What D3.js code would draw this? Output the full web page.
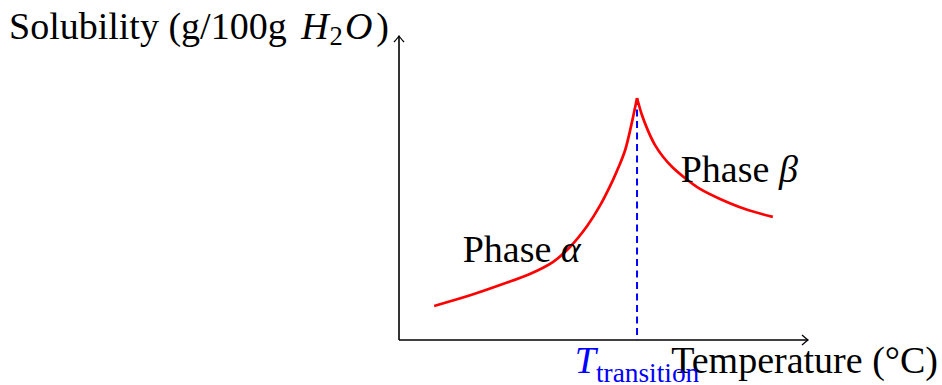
<!DOCTYPE html>
<html>
<head>
<meta charset="utf-8">
<script src="https://cdn.jsdelivr.net/npm/d3@7"></script>
<style>
  body { margin: 0; background: #fff; }
  svg text { font-family: "Liberation Serif", "DejaVu Serif", serif; }
</style>
</head>
<body>
<div id="chart"></div>
<script>
// values (temperature, solubility)
const alphaTemp = [8.6, 17.4, 25.4, 32.0, 37.7, 41.8, 46.0, 49.1, 52.3, 53.8, 55.3, 56.7, 58.2];
const alphaSol  = [11.2, 14.7, 18.4, 21.7, 25.7, 30.6, 37.5, 44.1, 52.6, 57.2, 62.5, 70.1, 79.6];
const betaTemp  = [58.2, 59.4, 60.9, 62.6, 64.6, 66.8, 69.9, 73.6, 78.5, 84.6, 91.4];
const betaSol   = [79.6, 74.0, 68.8, 64.1, 60.2, 56.9, 53.3, 49.7, 46.4, 43.1, 40.5];
const transitionTemp = 58.2;
const transitionSol = 79.6;
// annotation labels: [text, greek, temp, sol]
const phaseLabels = [["Phase ", "α", 30, 25.7], ["Phase ", "β", 83.2, 52.0]];

const width = 942, height = 385;
const fontSize = 38;

const svg = d3.select("#chart").append("svg")
    .attr("width", width)
    .attr("height", height);

const x = d3.scaleLinear().domain([0, 100]).range([399, 808]);
const y = d3.scaleLinear().domain([0, 100]).range([340, 36]);

// arrow head (tikz "to" style)
svg.append("defs").append("marker")
    .attr("id", "arr")
    .attr("viewBox", "-8 -6 10 12")
    .attr("refX", 0).attr("refY", 0)
    .attr("markerWidth", 10).attr("markerHeight", 12)
    .attr("markerUnits", "userSpaceOnUse")
    .attr("orient", "auto")
    .append("path")
    .attr("d", "M-6,-5 Q-1.5,-1 0,0 Q-1.5,1 -6,5")
    .attr("fill", "none")
    .attr("stroke", "#000")
    .attr("stroke-width", 1.3);

// axes
const xAxis = d3.axisBottom(x).tickValues([]).tickSizeOuter(0);
const gx = svg.append("g").attr("transform", `translate(0,${y(0)})`).call(xAxis);
const yAxis = d3.axisLeft(y).tickValues([]).tickSizeOuter(0);
const gy = svg.append("g").attr("transform", `translate(${x(0)},0)`).call(yAxis);
gx.select(".domain").attr("stroke", "#000").attr("stroke-width", 1.6)
    .attr("d", `M${x(0)},0H${x(100)}`).attr("marker-end", "url(#arr)");
gy.select(".domain").attr("stroke", "#000").attr("stroke-width", 1.6)
    .attr("d", `M0,${y(0)}V${y(100)}`).attr("marker-end", "url(#arr)");

// transition line
svg.append("line")
    .attr("x1", x(transitionTemp)).attr("x2", x(transitionTemp))
    .attr("y1", y(transitionSol)).attr("y2", y(0))
    .attr("stroke", "#0000ff")
    .attr("stroke-width", 2)
    .attr("stroke-dasharray", "7,4.5");

// curves
const line = d3.line()
    .curve(d3.curveCatmullRom.alpha(0.5))
    .x(d => x(d[0]))
    .y(d => y(d[1]));
const branches = [d3.zip(alphaTemp, alphaSol), d3.zip(betaTemp, betaSol)];
svg.selectAll(".branch")
    .data(branches)
    .enter().append("path")
    .attr("class", "branch")
    .attr("d", line)
    .attr("fill", "none")
    .attr("stroke", "#ff0000")
    .attr("stroke-width", 2.7)
    .attr("stroke-linejoin", "round");

// phase labels
phaseLabels.forEach(function(p) {
    let t = svg.append("text")
        .attr("x", x(p[2])).attr("y", y(p[3]))
        .attr("text-anchor", "middle")
        .attr("font-size", fontSize)
        .attr("fill", "#000");
    t.append("tspan").text(p[0]);
    t.append("tspan").attr("font-style", "italic").text(p[1]);
});

// axis labels
let yl = svg.append("text")
    .attr("x", 389).attr("y", 39)
    .attr("text-anchor", "end")
    .attr("font-size", fontSize);
yl.append("tspan").text("Solubility (g/100g ");
yl.append("tspan").attr("font-style", "italic").attr("dx", 5).text("H");
yl.append("tspan").attr("font-size", fontSize * 0.7).attr("dy", 6).attr("dx", 1).text("2");
yl.append("tspan").attr("font-style", "italic").attr("dy", -6).attr("dx", 2).text("O");
yl.append("tspan").attr("dx", 4).text(")");

svg.append("text")
    .attr("x", 938).attr("y", 373)
    .attr("text-anchor", "end")
    .attr("font-size", fontSize)
    .text("Temperature (°C)");

let tl = svg.append("text")
    .attr("x", x(transitionTemp)).attr("y", 373)
    .attr("text-anchor", "middle")
    .attr("font-size", fontSize)
    .attr("fill", "#0000ff");
tl.append("tspan").attr("font-style", "italic").text("T");
tl.append("tspan").attr("font-size", fontSize * 0.72).attr("dy", 9).text("transition");
</script>
</body>
</html>
